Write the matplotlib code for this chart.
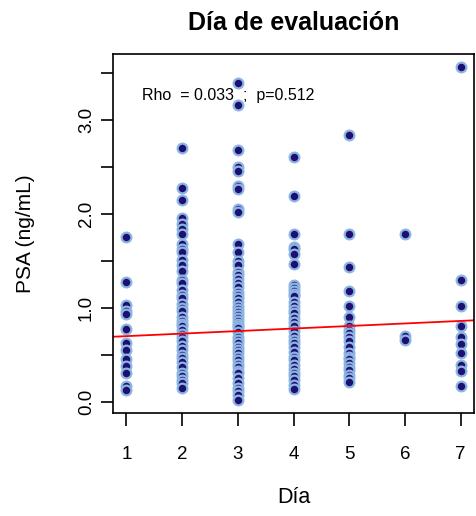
import matplotlib
matplotlib.use("Agg")
import matplotlib.pyplot as plt
import numpy as np

plt.rcParams['font.family'] = ['Liberation Sans', 'DejaVu Sans']

# PSA values (ng/mL) by evaluation day
psa_dia1 = [1.75, 1.27, 1.03, 0.97, 0.93, 0.77, 0.62, 0.55, 0.45, 0.38, 0.30, 0.17, 0.12]
psa_dia2 = [2.70, 2.27, 2.15, 1.95, 1.89, 1.84, 1.79, 1.68, 1.63, 1.59, 1.51, 1.45,
            1.39, 1.30, 1.26, 1.19, 1.14, 1.10, 1.04, 1.00, 0.96, 0.90, 0.86, 0.83,
            0.80, 0.76, 0.72, 0.69, 0.64, 0.59, 0.55, 0.50, 0.46, 0.42, 0.37, 0.30,
            0.27, 0.23, 0.20, 0.15]
psa_dia3 = [3.39, 3.16, 2.68, 2.50, 2.46, 2.30, 2.26, 2.05, 2.02, 1.68, 1.59, 1.50,
            1.45, 1.38, 1.35, 1.31, 1.26, 1.22, 1.17, 1.13, 1.10, 1.06, 1.02, 0.99,
            0.95, 0.92, 0.89, 0.86, 0.83, 0.80, 0.78, 0.74, 0.69, 0.66, 0.62, 0.58,
            0.55, 0.52, 0.48, 0.44, 0.40, 0.37, 0.33, 0.30, 0.25, 0.20, 0.15, 0.11,
            0.07, 0.02]
psa_dia4 = [2.60, 2.19, 1.79, 1.65, 1.62, 1.57, 1.47, 1.24, 1.21, 1.18, 1.15, 1.12,
            1.06, 1.02, 0.98, 0.94, 0.89, 0.85, 0.80, 0.75, 0.70, 0.66, 0.62, 0.58,
            0.53, 0.48, 0.44, 0.39, 0.35, 0.30, 0.27, 0.23, 0.18, 0.13]
psa_dia5 = [2.84, 1.79, 1.43, 1.18, 1.02, 0.90, 0.80, 0.76, 0.73, 0.69, 0.64, 0.58,
            0.52, 0.48, 0.45, 0.41, 0.37, 0.34, 0.28, 0.25, 0.21]
psa_dia6 = [1.79, 0.70, 0.66]
psa_dia7 = [3.56, 1.29, 1.02, 0.80, 0.69, 0.61, 0.52, 0.39, 0.33, 0.17]

dias = [1, 2, 3, 4, 5, 6, 7]
psa_por_dia = [psa_dia1, psa_dia2, psa_dia3, psa_dia4, psa_dia5, psa_dia6, psa_dia7]

# linear fit shown in red
fit_intercept = 0.67
fit_slope = 0.027
rho_text = "Rho  = 0.033  ;  p=0.512"

x = np.concatenate([[d] * len(v) for d, v in zip(dias, psa_por_dia)])
y = np.concatenate(psa_por_dia)

fig = plt.figure(figsize=(4.76, 5.16), dpi=100)
ax = fig.add_axes([0.2374, 0.1996, 0.7584, 0.6957])

ax.plot(x, y, 'o', markersize=7, markerfacecolor='#1d1070',
        markeredgecolor='#8db4e2', markeredgewidth=1.6, linestyle='none')

# R style axis limits (4% padding)
xr = max(dias) - min(dias)
ax.set_xlim(min(dias) - 0.04 * xr, max(dias) + 0.04 * xr)
yr = y.max() - y.min()
ax.set_ylim(y.min() - 0.04 * yr, y.max() + 0.04 * yr)

ax.axline((0, fit_intercept), slope=fit_slope, color='red', linewidth=1.3)

ax.text(2.83, 3.26, rho_text, ha='center', va='center', fontsize=11.5)

ax.set_xticks(dias)
ax.set_xticklabels([str(d) for d in dias])
yt = np.arange(0, 3.51, 0.5)
ax.set_yticks(yt)
ax.set_yticklabels(['%.1f' % v if abs(v - round(v)) < 1e-9 else '' for v in yt],
                   rotation=90, va='center')
ax.tick_params(axis='both', direction='out', length=9, width=1.2, labelsize=13.5,
               color='black')
ax.tick_params(axis='x', pad=15)
ax.tick_params(axis='y', pad=4)
for s in ax.spines.values():
    s.set_linewidth(1.2)

ax.set_title("Día de evaluación", fontsize=18, fontweight='bold', pad=17)
ax.set_xlabel("Día", fontsize=15.5, labelpad=17)
ax.set_ylabel("PSA (ng/mL)", fontsize=15, labelpad=31)

fig.savefig("out.png", dpi=100)
